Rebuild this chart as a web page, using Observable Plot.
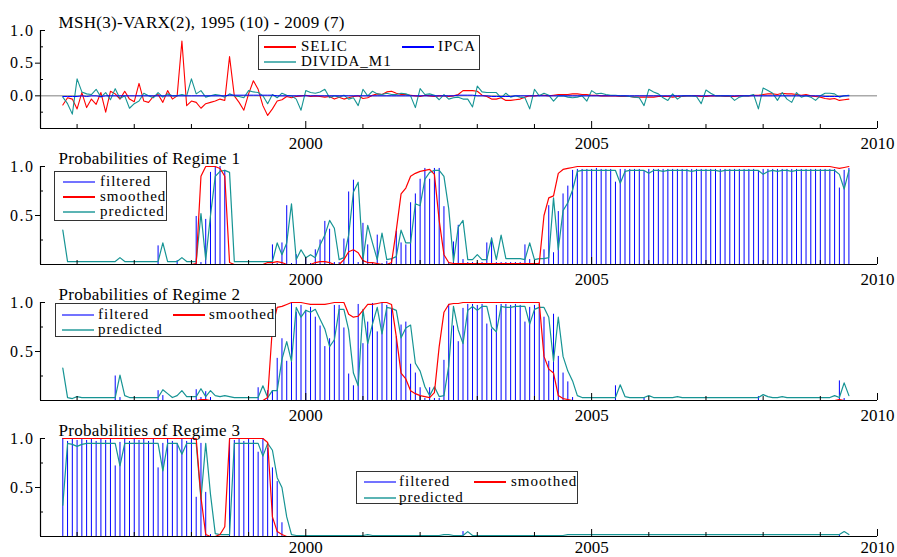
<!DOCTYPE html>
<html>
<head>
<meta charset="utf-8">
<script src="https://cdn.jsdelivr.net/npm/d3@7"></script>
<script src="https://cdn.jsdelivr.net/npm/@observablehq/plot@0.6"></script>
<style>
  html, body { margin: 0; padding: 0; background: #fff; }
  #chart { position: relative; width: 897px; height: 557px; background: #fff; overflow: hidden;
    font-family: "Liberation Serif", "Times New Roman", Times, serif; }
  .panel { position: absolute; left: 0; }
  .panel svg { overflow: visible; }
  g[aria-label="y-axis tick label"] text { letter-spacing: 1.5px; }
  g[aria-label="text"] text { letter-spacing: 0.3px; }
  .legend { position: absolute; border: 1.3px solid #333; background: #fff; box-sizing: border-box; }
  .legend .sw { position: absolute; width: 32px; height: 1.5px; }
  .legend .lb { position: absolute; font-size: 15px; letter-spacing: 1px; line-height: 14px; height: 14px; color: #000; white-space: nowrap; }
</style>
</head>
<body>
<div id="chart"></div>
<script>
// ---------------- data (monthly, 1995(10) - 2009(7)) ----------------
const START_YEAR = 1995, START_MONTH = 10;

const SELIC = [
 -0.14,-0.03,-0.05,-0.20,0.05,-0.18,-0.05,-0.13,0.05,-0.25,
 0.07,0.03,-0.05,0.07,-0.05,-0.09,0.19,-0.08,-0.10,-0.01,
 0.02,-0.10,0.08,-0.05,0.00,0.84,-0.15,-0.08,-0.10,-0.19,
 -0.12,-0.10,-0.08,-0.05,-0.07,0.60,0.00,-0.10,-0.22,0.03,
 0.23,0.10,-0.15,-0.30,-0.20,-0.08,-0.06,-0.01,-0.03,-0.01,
 0.00,0.01,-0.01,0.00,-0.01,-0.02,-0.01,-0.05,-0.02,-0.05,
 -0.03,-0.01,0.00,-0.04,-0.03,0.01,0.03,0.02,0.06,0.07,
 0.04,0.02,0.02,0.01,0.00,-0.01,0.01,0.00,-0.01,0.00,
 0.00,-0.01,0.00,0.02,0.08,0.08,0.08,0.07,0.01,-0.01,
 -0.05,-0.05,-0.03,-0.07,-0.07,-0.06,-0.05,-0.02,0.00,0.00,
 0.01,0.01,0.00,0.01,0.02,0.02,0.02,0.03,0.03,0.02,
 0.02,0.01,0.01,0.00,0.00,0.00,0.00,-0.01,-0.01,-0.01,
 -0.02,-0.02,-0.02,-0.02,-0.02,-0.01,-0.01,-0.01,-0.02,-0.01,
 -0.01,0.00,0.00,0.00,-0.01,-0.01,0.00,0.00,0.00,-0.01,
 -0.01,-0.01,0.00,0.00,0.00,0.01,0.01,0.02,0.03,0.03,
 0.02,0.04,0.03,0.03,0.02,0.01,0.02,0.00,-0.01,-0.02,
 -0.04,-0.05,-0.04,-0.07,-0.06,-0.05
];
const IPCA = [
 -0.01,-0.01,-0.01,-0.01,0.00,-0.01,0.00,0.00,-0.01,0.00,
 0.00,0.00,0.00,0.00,0.00,0.00,0.00,0.00,0.00,0.00,
 0.00,0.00,0.00,0.00,0.00,0.00,0.00,0.00,0.00,0.00,
 0.00,0.00,0.00,0.00,0.00,0.01,0.01,0.01,0.01,0.01,
 0.01,0.01,0.01,0.01,0.01,0.00,0.00,0.00,0.00,0.00,
 0.00,0.00,0.00,0.00,0.00,0.00,0.00,0.00,0.00,0.00,
 0.00,0.00,0.00,0.00,0.00,0.00,0.00,0.00,0.00,0.00,
 0.00,0.00,0.00,0.00,0.00,0.00,0.00,0.00,0.00,0.00,
 0.00,0.00,0.00,0.01,0.01,0.01,0.01,0.00,0.00,0.00,
 -0.01,-0.01,-0.01,-0.01,-0.01,0.00,0.00,0.00,0.00,0.00,
 0.00,0.00,0.00,0.00,0.00,0.00,0.00,0.00,0.00,0.00,
 0.00,0.00,0.00,0.00,0.00,0.00,0.00,0.00,0.00,0.00,
 0.00,0.00,0.00,0.00,0.00,0.00,0.00,0.00,0.00,0.00,
 0.00,0.00,0.00,0.00,0.00,0.00,0.00,0.00,0.00,0.00,
 0.00,0.00,0.00,0.00,0.00,0.00,0.00,0.00,0.00,0.00,
 0.00,0.00,0.00,0.00,0.00,0.00,0.00,0.00,0.00,0.00,
 -0.01,-0.01,-0.01,-0.01,0.00,0.00
];
const DIVIDA_M1 = [
 -0.02,-0.12,-0.28,0.26,0.06,0.03,0.02,0.10,-0.02,0.05,
 -0.06,0.11,-0.04,0.00,-0.19,-0.12,-0.08,0.04,0.00,-0.03,
 0.05,-0.02,0.03,0.00,0.00,0.02,0.00,0.26,0.03,0.08,
 -0.02,0.00,0.02,0.01,-0.02,0.03,0.00,-0.01,-0.03,0.08,
 0.06,0.05,0.00,-0.12,0.02,-0.03,0.04,0.01,0.00,-0.05,
 -0.22,0.08,0.05,0.04,0.06,0.10,-0.03,0.00,-0.02,0.01,
 -0.05,-0.03,-0.15,0.10,0.00,0.07,0.03,0.02,0.04,0.02,
 0.02,0.04,0.03,0.00,-0.18,0.11,0.02,0.03,0.01,-0.06,
 0.02,-0.05,-0.03,-0.02,-0.05,-0.05,-0.17,0.15,0.06,0.05,
 0.05,0.05,-0.03,0.04,-0.02,0.00,-0.02,-0.03,-0.20,0.10,
 0.00,0.04,0.01,-0.08,0.00,0.00,-0.02,-0.03,-0.02,0.00,
 -0.08,0.08,0.03,0.04,0.02,0.01,0.01,0.00,0.00,-0.01,
 -0.02,-0.03,-0.15,0.10,0.06,0.03,-0.03,-0.07,0.03,-0.05,
 0.00,0.00,0.00,-0.01,-0.12,0.09,0.04,0.00,0.00,0.00,
 0.00,-0.07,-0.02,0.00,0.00,0.02,-0.20,0.12,0.08,0.04,
 -0.07,0.05,-0.05,-0.10,0.05,-0.02,0.00,-0.02,-0.07,0.00,
 0.04,0.04,0.03,-0.02,0.00,0.01
];

// Regime 1
const R1_FILTERED = [
 0,0,0,0,0,0,0,0,0,0,
 0,0,0,0,0,0,0,0,0,0,
 0.19,0,0,0,0.04,0,0,0,0.49,0.02,
 0.46,0.94,0.99,1.00,0.96,0,0,0,0,0,
 0,0,0,0,0.20,0.01,0.22,0.60,0.01,0.10,
 0.00,0.06,0.01,0.15,0.25,0.44,0.36,0.02,0.02,0.26,
 0.74,0.86,0.02,0.42,0.20,0.01,0.30,0.01,0.03,0.06,
 0.34,0.22,0.20,0.63,0.72,0.87,0.98,0.87,0.98,0.98,
 0.59,0.02,0.23,0.40,0.05,0.02,0.02,0.02,0.02,0.22,
 0.27,0.02,0.02,0.02,0.02,0.02,0.02,0.20,0.05,0.02,
 0.02,0.15,0.60,0.12,0.54,0.72,0.80,0.96,0.97,0.97,
 0.97,0.97,0.98,0.97,0.97,0.97,0.84,0.97,0.97,0.97,
 0.97,0.97,0.95,0.97,0.97,0.97,0.97,0.97,0.97,0.97,
 0.97,0.97,0.97,0.97,0.97,0.97,0.97,0.97,0.97,0.97,
 0.97,0.97,0.97,0.97,0.97,0.97,0.95,0.97,0.97,0.97,
 0.97,0.97,0.97,0.97,0.97,0.97,0.97,0.97,0.97,0.97,
 0.97,0.97,0.97,0.78,0.96,0.98
];
const R1_SMOOTHED = [
 0,0,0,0,0,0,0,0,0,0,
 0,0,0,0,0,0,0,0,0,0,
 0,0,0,0,0,0,0,0,0.01,0.90,
 1.00,1.00,1.00,0.98,0.90,0.02,0,0,0,0,
 0,0,0,0.02,0.02,0.03,0.02,0,0,0,
 0,0,0,0.02,0.03,0.03,0.02,0,0,0.05,
 0.13,0.15,0.12,0.04,0.02,0.02,0.01,0,0,0.02,
 0.35,0.72,0.78,0.90,0.93,0.95,0.96,0.97,0.92,0.45,
 0.10,0.02,0.01,0.01,0.01,0.01,0.01,0.01,0.01,0.01,
 0.01,0.01,0.01,0.01,0.01,0.01,0.01,0.01,0.01,0.01,
 0.01,0.50,0.68,0.70,0.93,0.97,0.98,0.99,1.00,1.00,
 1.00,1.00,1.00,1.00,1.00,1.00,1.00,1.00,1.00,1.00,
 1.00,1.00,1.00,1.00,1.00,1.00,1.00,1.00,1.00,1.00,
 1.00,1.00,1.00,1.00,1.00,1.00,1.00,1.00,1.00,1.00,
 1.00,1.00,1.00,1.00,1.00,1.00,1.00,1.00,1.00,1.00,
 1.00,1.00,1.00,1.00,1.00,1.00,1.00,1.00,1.00,1.00,
 1.00,1.00,0.99,0.98,0.99,1.00
];
const R1_PREDICTED = [
 0.35,0.03,0.03,0.03,0.03,0.03,0.03,0.03,0.03,0.03,
 0.03,0.03,0.07,0.03,0.03,0.03,0.03,0.03,0.03,0.03,
 0.03,0.22,0.03,0.03,0.03,0.07,0.03,0.03,0.03,0.52,
 0.05,0.50,0.90,0.95,0.96,0.94,0.03,0.03,0.03,0.03,
 0.03,0.03,0.03,0.03,0.03,0.22,0.10,0.22,0.62,0.05,
 0.15,0.07,0.10,0.07,0.20,0.30,0.45,0.37,0.05,0.07,
 0.30,0.74,0.84,0.05,0.40,0.22,0.05,0.32,0.05,0.06,
 0.08,0.35,0.22,0.22,0.62,0.60,0.87,0.94,0.96,0.96,
 0.90,0.57,0.03,0.38,0.45,0.05,0.05,0.10,0.05,0.05,
 0.27,0.05,0.30,0.06,0.06,0.06,0.06,0.05,0.22,0.05,
 0.06,0.06,0.07,0.68,0.15,0.55,0.63,0.76,0.95,0.96,
 0.96,0.96,0.96,0.96,0.96,0.96,0.96,0.83,0.95,0.96,
 0.96,0.96,0.96,0.93,0.96,0.96,0.95,0.96,0.96,0.96,
 0.96,0.96,0.95,0.96,0.96,0.96,0.96,0.96,0.95,0.96,
 0.96,0.96,0.96,0.96,0.96,0.96,0.96,0.92,0.95,0.96,
 0.95,0.96,0.96,0.95,0.96,0.96,0.96,0.96,0.96,0.96,
 0.96,0.96,0.96,0.92,0.77,0.96
];

// Regime 2
const R2_FILTERED = [
 0,0,0,0,0,0,0,0,0,0,
 0,0.25,0.03,0,0,0,0,0,0,0,
 0.10,0.05,0,0,0,0,0,0,0.11,0.03,
 0.09,0.03,0,0,0,0,0,0,0,0,
 0,0.13,0,0.10,0.10,0.43,0.63,0.40,0.99,0.90,
 0.97,0.92,0.95,0.85,0.76,0.55,0.63,0.97,0.97,0.74,
 0.27,0.15,0.98,0.58,0.80,0.99,0.70,0.99,0.97,0.94,
 0.65,0.77,0.80,0.37,0.28,0.13,0.02,0.13,0.02,0.02,
 0.41,0.98,0.76,0.60,0.94,0.98,0.98,0.97,0.98,0.78,
 0.73,0.97,0.98,0.98,0.97,0.98,0.97,0.80,0.95,0.97,
 0.98,0.85,0.40,0.88,0.45,0.28,0.19,0.03,0,0,
 0,0,0,0,0,0,0.15,0,0,0,
 0,0,0.03,0,0,0,0,0,0,0,
 0,0,0,0,0,0,0,0,0,0,
 0,0,0,0,0,0,0.04,0,0,0,
 0,0,0,0,0,0,0,0,0,0,
 0,0,0,0.20,0.02,0
];
const R2_SMOOTHED = [
 0,0,0,0,0,0,0,0,0,0,
 0,0,0,0,0,0,0,0,0,0,
 0,0,0,0,0,0,0,0,0,0.01,
 0.01,0,0,0,0,0,0,0,0,0,
 0,0,0,0.03,0.75,0.95,0.96,0.98,1.00,1.00,
 1.00,0.99,0.98,0.98,0.98,0.98,0.99,1.00,1.00,1.00,
 0.88,0.85,0.86,0.92,0.98,0.98,0.99,1.00,1.00,0.98,
 0.65,0.28,0.22,0.10,0.07,0.05,0.04,0.03,0.08,0.55,
 0.90,0.98,0.99,0.99,1.00,1.00,1.00,1.00,1.00,1.00,
 1.00,1.00,1.00,1.00,1.00,1.00,1.00,1.00,1.00,1.00,
 1.00,0.45,0.32,0.28,0.05,0.02,0.01,0,0,0,
 0,0,0,0,0,0,0,0,0,0,
 0,0,0,0,0,0,0,0,0,0,
 0,0,0,0,0,0,0,0,0,0,
 0,0,0,0,0,0,0,0,0,0,
 0,0,0,0,0,0,0,0,0,0,
 0,0,0,0.01,0,0
];
const R2_PREDICTED = [
 0.33,0.03,0.02,0.04,0.03,0.03,0.03,0.03,0.03,0.03,
 0.03,0.03,0.26,0.05,0.03,0.03,0.03,0.03,0.03,0.03,
 0.03,0.11,0.07,0.03,0.05,0.10,0.04,0.04,0.04,0.12,
 0.04,0.10,0.05,0.04,0.05,0.04,0.03,0.03,0.03,0.03,
 0.03,0.03,0.15,0.03,0.10,0.10,0.42,0.60,0.40,0.95,
 0.85,0.92,0.90,0.93,0.83,0.73,0.55,0.62,0.93,0.93,
 0.72,0.28,0.15,0.93,0.58,0.78,0.95,0.68,0.95,0.94,
 0.92,0.64,0.74,0.77,0.38,0.30,0.14,0.05,0.14,0.04,
 0.05,0.35,0.96,0.72,0.58,0.92,0.96,0.92,0.96,0.96,
 0.75,0.70,0.96,0.95,0.95,0.96,0.96,0.96,0.78,0.93,
 0.95,0.95,0.85,0.40,0.85,0.45,0.30,0.20,0.05,0.03,
 0.03,0.03,0.03,0.03,0.03,0.03,0.03,0.16,0.04,0.03,
 0.03,0.03,0.03,0.05,0.03,0.03,0.03,0.03,0.03,0.04,
 0.03,0.03,0.03,0.03,0.03,0.03,0.03,0.03,0.03,0.03,
 0.03,0.03,0.03,0.03,0.03,0.03,0.03,0.06,0.04,0.03,
 0.03,0.04,0.03,0.03,0.03,0.03,0.03,0.03,0.03,0.03,
 0.03,0.03,0.05,0.03,0.18,0.05
];

// Regime 3
const R3_FILTERED = [
 1.00,0.97,1.00,0.98,1.00,0.98,1.00,0.97,1.00,0.98,
 1.00,0.72,0.96,0.99,0.97,1.00,0.98,1.00,0.97,0.99,
 0.70,0.95,0.99,0.97,0.95,1.00,0.97,0.99,0.40,0.95,
 0.45,0.02,0,0,0,1.00,0.98,1.00,0.97,1.00,
 0.98,0.86,1.00,0.90,0.70,0.56,0.14,0,0,0,
 0,0,0,0,0,0,0,0,0,0,
 0,0,0,0,0,0,0,0,0,0,
 0,0,0,0,0,0,0,0,0,0,
 0,0,0,0,0.05,0,0,0,0,0,
 0,0,0,0,0,0,0,0,0,0,
 0,0,0,0,0,0,0,0,0,0,
 0,0,0,0,0,0,0,0,0,0,
 0,0,0,0,0,0,0,0,0,0,
 0,0,0,0,0,0,0,0,0,0,
 0,0,0,0,0,0,0,0,0,0,
 0,0,0,0,0,0,0,0,0,0,
 0,0,0,0.02,0,0
];
const R3_SMOOTHED = [
 1.00,1.00,1.00,1.00,1.00,1.00,1.00,1.00,1.00,1.00,
 1.00,1.00,1.00,1.00,1.00,1.00,1.00,1.00,1.00,1.00,
 1.00,1.00,1.00,1.00,1.00,1.00,1.00,1.00,1.00,0.40,
 0.02,0,0,0.02,0.10,1.00,1.00,1.00,1.00,1.00,
 1.00,1.00,1.00,0.96,0.20,0.05,0.02,0,0,0,
 0,0,0,0,0,0,0,0,0,0,
 0,0,0,0,0,0,0,0,0,0,
 0,0,0,0,0,0,0,0,0,0,
 0,0,0,0,0,0,0,0,0,0,
 0,0,0,0,0,0,0,0,0,0,
 0,0,0,0,0,0,0,0,0,0,
 0,0,0,0,0,0,0,0,0,0,
 0,0,0,0,0,0,0,0,0,0,
 0,0,0,0,0,0,0,0,0,0,
 0,0,0,0,0,0,0,0,0,0,
 0,0,0,0,0,0,0,0,0,0,
 0,0,0,0,0,0
];
const R3_PREDICTED = [
 0.32,0.95,0.94,0.92,0.94,0.95,0.95,0.95,0.95,0.95,
 0.95,0.95,0.72,0.95,0.95,0.95,0.95,0.95,0.95,0.95,
 0.95,0.67,0.95,0.95,0.95,0.84,0.95,0.95,0.95,0.38,
 0.95,0.43,0.03,0.02,0.02,0.02,0.95,0.95,0.95,0.95,
 0.95,0.95,0.82,0.95,0.88,0.60,0.50,0.20,0.02,0.01,
 0.01,0.01,0.01,0.01,0.01,0.01,0.01,0.01,0.01,0.01,
 0.01,0.01,0.01,0.01,0.02,0.01,0.01,0.01,0.01,0.01,
 0.01,0.01,0.01,0.01,0.01,0.01,0.01,0.01,0.01,0.01,
 0.02,0.02,0.01,0.01,0.01,0.05,0.01,0.01,0.01,0.01,
 0.01,0.01,0.01,0.01,0.01,0.01,0.01,0.01,0.01,0.01,
 0.01,0.01,0.01,0.01,0.01,0.01,0.02,0.02,0.02,0.02,
 0.02,0.02,0.02,0.02,0.02,0.02,0.02,0.02,0.02,0.02,
 0.02,0.02,0.02,0.02,0.02,0.02,0.02,0.02,0.02,0.02,
 0.02,0.02,0.02,0.02,0.02,0.02,0.02,0.02,0.02,0.02,
 0.02,0.02,0.02,0.02,0.02,0.02,0.02,0.02,0.02,0.02,
 0.02,0.02,0.02,0.02,0.02,0.02,0.02,0.02,0.02,0.02,
 0.02,0.02,0.02,0.02,0.05,0.02
];

const TITLES = ["MSH(3)-VARX(2), 1995 (10) - 2009 (7)",
  "Probabilities of Regime 1", "Probabilities of Regime 2", "Probabilities of Regime 3"];
const YEARS_MAJOR = [2000, 2005, 2010];
const YEARS_MINOR = [1996, 1997, 1998, 1999, 2001, 2002, 2003, 2004, 2006, 2007, 2008, 2009];

// ---------------- build ----------------
const RED = "#ff0000", BLUE = "#0000ff", TEAL = "#169494";
const FONT = "'Liberation Serif', 'Times New Roman', Times, serif";
const W = 897, ML = 40, MR = 20, PH = 98;
const X_DOMAIN = [1995.36, 2010];

const dates = SELIC.map((_, i) => {
  const m = START_MONTH - 1 + i;
  return START_YEAR + Math.floor(m / 12) + (m % 12) / 12;
});
const rows1 = dates.map((date, i) => ({date, selic: SELIC[i], ipca: IPCA[i], divida: DIVIDA_M1[i]}));
const regimeRows = (f, s, p) => dates.map((date, i) => ({date, filtered: f[i], smoothed: s[i], predicted: p[i]}));

const chart = document.getElementById("chart");

function panel(top, cfg) {
  const {mt, mb, yDomain, outTicks, inTicks, minor, title, marks, xPad = 8} = cfg;
  const plotW = W - ML - MR;
  const svg = Plot.plot({
    width: W, height: mt + PH + mb,
    marginLeft: ML, marginRight: MR, marginTop: mt, marginBottom: mb,
    x: {domain: X_DOMAIN, label: null},
    y: {domain: yDomain, label: null},
    style: {fontFamily: FONT, fontSize: "16px", background: "transparent", color: "#000"},
    marks: [
      ...marks,
      Plot.ruleX([X_DOMAIN[0]], {stroke: "#000", strokeWidth: 1.2}),
      Plot.ruleY([yDomain[0]], {stroke: "#000", strokeWidth: 1.2}),
      Plot.ruleX(YEARS_MINOR, {stroke: "#000", insetTop: PH - 4}),
      Plot.ruleX(YEARS_MAJOR, {stroke: "#000", insetTop: PH - 7}),
      Plot.ruleY(minor, {stroke: "#000", insetRight: plotW - 3}),
      Plot.ruleY(inTicks, {stroke: "#000", insetRight: plotW - 5}),
      Plot.axisY({ticks: outTicks, tickSize: 5, tickPadding: 1, tickFormat: ".1f", fontSize: 16, fontFamily: FONT, label: null}),
      Plot.axisY({ticks: inTicks, tickSize: 0, tickPadding: 6, tickFormat: ".1f", fontSize: 16, fontFamily: FONT, label: null}),
      Plot.axisX({ticks: YEARS_MAJOR, tickSize: 0, tickPadding: xPad, tickFormat: "d", fontSize: 17, fontFamily: FONT, label: null}),
      Plot.text([title], {text: d => d, frameAnchor: "top-left", dx: 18, dy: -3, lineAnchor: "bottom", textAnchor: "start", fontSize: 17, fontFamily: FONT})
    ]
  });
  const div = document.createElement("div");
  div.className = "panel";
  div.style.top = top + "px";
  div.appendChild(svg);
  chart.appendChild(div);
}

function regimeMarks(rows) {
  return [
    Plot.ruleX(rows, {x: "date", y1: 0, y2: "filtered", stroke: BLUE, strokeWidth: 1}),
    Plot.line(rows, {x: "date", y: "predicted", stroke: TEAL, strokeWidth: 1.2}),
    Plot.line(rows, {x: "date", y: "smoothed", stroke: RED, strokeWidth: 1.2})
  ];
}

panel(0, {
  mt: 30, mb: 20, yDomain: [-0.5, 1], outTicks: [0.5, 0], inTicks: [1], minor: [0.75, 0.25, -0.25],
  title: TITLES[0],
  marks: [
    Plot.ruleY([0], {stroke: "#aaaaaa", strokeWidth: 1.5}),
    Plot.line(rows1, {x: "date", y: "selic", stroke: RED, strokeWidth: 1.1}),
    Plot.line(rows1, {x: "date", y: "divida", stroke: TEAL, strokeWidth: 1.1}),
    Plot.line(rows1, {x: "date", y: "ipca", stroke: BLUE, strokeWidth: 1})
  ]
});
panel(148, {
  mt: 18, mb: 20, yDomain: [0, 1], outTicks: [0.5], inTicks: [1], minor: [0.75, 0.25],
  title: TITLES[1], marks: regimeMarks(regimeRows(R1_FILTERED, R1_SMOOTHED, R1_PREDICTED))
});
panel(284, {
  mt: 18, mb: 20, yDomain: [0, 1], outTicks: [0.5], inTicks: [1], minor: [0.75, 0.25],
  title: TITLES[2], marks: regimeMarks(regimeRows(R2_FILTERED, R2_SMOOTHED, R2_PREDICTED))
});
panel(420, {
  mt: 18, mb: 19, yDomain: [0, 1], outTicks: [0.5], inTicks: [1], minor: [0.75, 0.25], xPad: 4,
  title: TITLES[3], marks: regimeMarks(regimeRows(R3_FILTERED, R3_SMOOTHED, R3_PREDICTED))
});

// ---------------- legends ----------------
function legend(box, items) {
  const d = document.createElement("div");
  d.className = "legend";
  Object.assign(d.style, {left: box.left + "px", top: box.top + "px", width: box.width + "px", height: box.height + "px"});
  for (const it of items) {
    const sw = document.createElement("div");
    sw.className = "sw";
    Object.assign(sw.style, {left: it.lx + "px", top: (it.y - 0.75) + "px", background: it.color, opacity: it.opacity ?? 1});
    const lb = document.createElement("span");
    lb.className = "lb";
    lb.textContent = it.label;
    Object.assign(lb.style, {left: it.tx + "px", top: (it.y - 8) + "px"});
    d.appendChild(sw); d.appendChild(lb);
  }
  chart.appendChild(d);
}
legend({left: 258, top: 35, width: 222, height: 35}, [
  {label: "SELIC", color: RED, lx: 5, tx: 42, y: 11},
  {label: "IPCA", color: BLUE, lx: 143, tx: 179, y: 11},
  {label: "DIVIDA_M1", color: TEAL, opacity: 0.7, lx: 5, tx: 42, y: 26}
]);
legend({left: 54, top: 171, width: 113, height: 50}, [
  {label: "filtered", color: BLUE, opacity: 0.55, lx: 8, tx: 45, y: 10},
  {label: "smoothed", color: RED, lx: 8, tx: 45, y: 25},
  {label: "predicted", color: TEAL, opacity: 0.7, lx: 8, tx: 45, y: 40}
]);
legend({left: 55, top: 303, width: 221, height: 34}, [
  {label: "filtered", color: BLUE, opacity: 0.55, lx: 6, tx: 42, y: 11},
  {label: "smoothed", color: RED, lx: 117, tx: 153, y: 11},
  {label: "predicted", color: TEAL, opacity: 0.7, lx: 6, tx: 42, y: 26}
]);
legend({left: 356, top: 471, width: 222, height: 33}, [
  {label: "filtered", color: BLUE, opacity: 0.55, lx: 7, tx: 42, y: 10},
  {label: "smoothed", color: RED, lx: 117, tx: 154, y: 10},
  {label: "predicted", color: TEAL, opacity: 0.7, lx: 7, tx: 42, y: 26}
]);
</script>
</body>
</html>
